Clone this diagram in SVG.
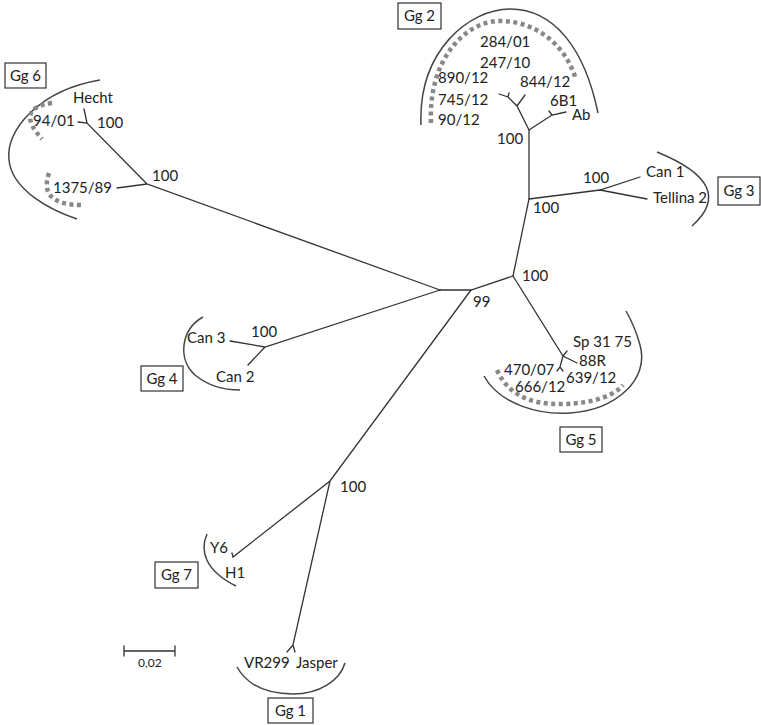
<svg xmlns="http://www.w3.org/2000/svg" width="761" height="725" viewBox="0 0 761 725">
<style>
.t{font-family:Lato,"Liberation Sans",sans-serif;font-size:15px;fill:#222}
.b{font-family:Lato,"Liberation Sans",sans-serif;font-size:15px;fill:#222;text-anchor:middle}
.br{fill:none;stroke:#333;stroke-width:1.3;stroke-linecap:round}
.arc{fill:none;stroke:#444;stroke-width:1.5}
.dot{fill:none;stroke:#888;stroke-width:4.5;stroke-dasharray:4 3.5}
.box{fill:#fff;stroke:#333;stroke-width:1.2}
</style>
<rect width="761" height="725" fill="#fff"/>
<g id="connectors">
<path class="br" d="M440,290L471,290L513,276L529,199L529,130"/>
<path class="br" d="M529,130L517,106L508,97L499,94M508,97L509,93M517,106L525,95M529,130L552,115L566,112M552,115L549,111"/>
<path class="br" d="M529,199L600,190L640,177M600,190L647,199"/>
<path class="br" d="M440,290L147,184L117,188M147,184L87,123L78,122M87,123L84,109"/>
<path class="br" d="M440,290L265,347L230,341M265,347L248,365"/>
<path class="br" d="M513,276L563,356L577,363M563,356L567,351M563,356L560,367L557,371M560,367L563,371"/>
<path class="br" d="M471,290L330,481L233,557L232,553M330,481L293,645L287,652M293,645L295,652"/>
</g>
<g id="Gg2">
<path class="arc" d="M421,125C418,50 470,9 510,9C555,9 585,50 598,113"/>
<path class="dot" d="M431,123C428,60 465,21 500,21C540,21 568,50 576,80"/>
<rect class="box" x="398" y="3" width="43" height="26"/>
<text class="b" x="419.5" y="21">Gg 2</text>
<text class="t" x="480" y="47">284/01</text>
<text class="t" x="480" y="68">247/10</text>
<text class="t" x="438" y="83">890/12</text>
<text class="t" x="520" y="87">844/12</text>
<text class="t" x="438" y="105">745/12</text>
<text class="t" x="550" y="106">6B1</text>
<text class="t" x="438" y="125">90/12</text>
<text class="t" x="572" y="120">Ab</text>
<text class="t" x="497" y="144">100</text>
</g>
<g id="Gg3">
<path class="arc" d="M657,152Q738,185 692,226"/>
<rect class="box" x="718" y="177" width="42" height="28"/>
<text class="b" x="739" y="196">Gg 3</text>
<text class="t" x="583" y="183">100</text>
<text class="t" x="646" y="177">Can 1</text>
<text class="t" x="653" y="203">Tellina 2</text>
<text class="t" x="533" y="213">100</text>
</g>
<g id="root">
<text class="t" x="522" y="281">100</text>
<text class="t" x="473" y="307">99</text>
</g>
<g id="Gg6">
<path class="arc" d="M100,80C40,90 5,130 9,160C12,190 50,210 77,219"/>
<path class="dot" d="M52,103Q14,108 42,139"/>
<path class="dot" d="M49,173Q38,205 82,205"/>
<rect class="box" x="5" y="63" width="41" height="25"/>
<text class="b" x="25.5" y="81">Gg 6</text>
<text class="t" x="73" y="103">Hecht</text>
<text class="t" x="33" y="126">94/01</text>
<text class="t" x="97" y="128">100</text>
<text class="t" x="152" y="181">100</text>
<text class="t" x="53" y="193">1375/89</text>
</g>
<g id="Gg4">
<path class="arc" d="M203,317C180,330 178,360 195,375C207,385 222,390 240,390"/>
<rect class="box" x="141" y="366" width="42" height="25"/>
<text class="b" x="162" y="384">Gg 4</text>
<text class="t" x="187" y="343">Can 3</text>
<text class="t" x="251" y="337">100</text>
<text class="t" x="216" y="382">Can 2</text>
</g>
<g id="Gg5">
<path class="arc" d="M484,376C500,405 540,415 570,413C615,410 650,380 640,345C636,330 630,318 626,311"/>
<path class="dot" d="M497,370C510,400 540,405 565,404C595,403 615,395 623,385"/>
<rect class="box" x="560" y="427" width="42" height="25"/>
<text class="b" x="581" y="445">Gg 5</text>
<text class="t" x="573" y="347">Sp 31 75</text>
<text class="t" x="579" y="366">88R</text>
<text class="t" x="566" y="383">639/12</text>
<text class="t" x="504" y="375">470/07</text>
<text class="t" x="515" y="392">666/12</text>
</g>
<g id="Gg7">
<path class="arc" d="M207,534C200,550 204,570 236,586"/>
<rect class="box" x="155" y="562" width="43" height="26"/>
<text class="b" x="176.5" y="580">Gg 7</text>
<text class="t" x="340" y="492">100</text>
<text class="t" x="210" y="553">Y6</text>
<text class="t" x="225" y="578">H1</text>
</g>
<g id="Gg1">
<path class="arc" d="M237,667C250,690 275,694 293,694C320,694 340,680 345,663"/>
<rect class="box" x="268" y="698" width="45" height="25"/>
<text class="b" x="290.5" y="716">Gg 1</text>
<text class="t" x="244" y="668">VR299</text>
<text class="t" x="296" y="668">Jasper</text>
</g>
<g id="scale">
<path class="br" d="M124,651L175,651M124,646L124,656M175,646L175,656"/>
<text x="138" y="667" style="font-family:Lato,'Liberation Sans',sans-serif;font-size:12px;fill:#222">0,02</text>
</g>
</svg>
